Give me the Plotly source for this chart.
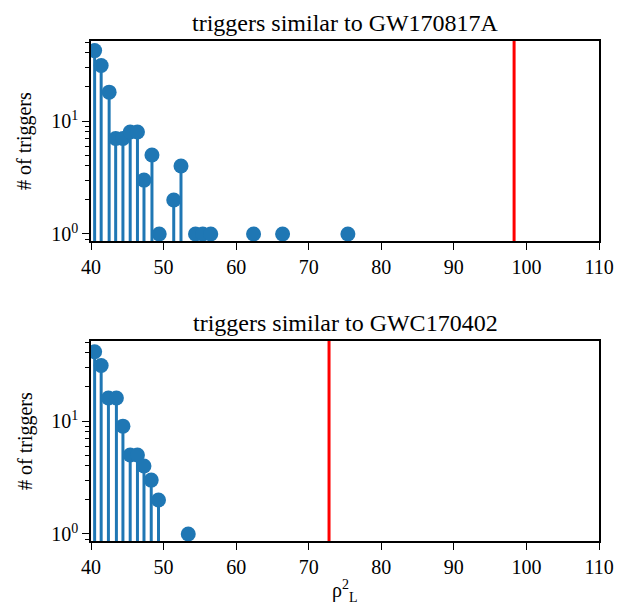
import plotly.graph_objects as go
from plotly.subplots import make_subplots

# top panel: triggers similar to GW170817A
rho_a = [40.5, 41.4, 42.5, 43.4, 44.4, 45.4, 46.4, 47.3, 48.4, 49.4,
         51.4, 52.4, 54.4, 55.4, 56.5, 62.4, 66.4, 75.4]
count_a = [42, 31, 18, 7, 7, 8, 8, 3, 5, 1,
           2, 4, 1, 1, 1, 1, 1, 1]
event_a = 98.3

# bottom panel: triggers similar to GWC170402
rho_b = [40.5, 41.4, 42.4, 43.5, 44.4, 45.4, 46.4, 47.3, 48.3, 49.3, 53.4]
count_b = [41, 31, 16, 16, 9, 5, 5, 4, 3, 2, 1]
event_b = 72.8

titles = ["triggers similar to GW170817A", "triggers similar to GWC170402"]

BLUE = "#1f77b4"
FONT = "Liberation Serif"
STEM_BASE = 0.5  # below the visible log range, like matplotlib's clipped baseline

fig = make_subplots(rows=2, cols=1, vertical_spacing=0.2)


def stems(xs, ys):
    sx, sy = [], []
    for x, y in zip(xs, ys):
        sx += [x, x, None]
        sy += [STEM_BASE, y, None]
    return sx, sy


for row, (xs, ys, ev) in enumerate([(rho_a, count_a, event_a),
                                    (rho_b, count_b, event_b)], start=1):
    sx, sy = stems(xs, ys)
    fig.add_trace(go.Scatter(x=sx, y=sy, mode="lines",
                             line=dict(color=BLUE, width=3),
                             showlegend=False, hoverinfo="skip"),
                  row=row, col=1)
    fig.add_trace(go.Scatter(x=xs, y=ys, mode="markers",
                             marker=dict(color=BLUE, size=15),
                             showlegend=False),
                  row=row, col=1)
    fig.add_vline(x=ev, line=dict(color="red", width=3), row=row, col=1)

minor_vals = [0.9, 2, 3, 4, 5, 6, 7, 8, 9, 20, 30, 40, 50]

fig.update_xaxes(range=[40, 110], tickvals=[40, 50, 60, 70, 80, 90, 100, 110],
                 ticks="outside", ticklen=7, tickwidth=1.2, tickcolor="black",
                 showline=True, linecolor="black", linewidth=1.5, mirror=True,
                 showgrid=False, zeroline=False, automargin=False,
                 tickfont=dict(family=FONT, size=20, color="black"))
fig.update_yaxes(type="log", range=[-0.062, 1.708],
                 tickvals=[1, 10], ticktext=["10<sup>0</sup>", "10<sup>1</sup>"],
                 ticks="outside", ticklen=7, tickwidth=1.2, tickcolor="black",
                 minor=dict(tickvals=minor_vals, ticks="outside", ticklen=4,
                            tickcolor="black", tickwidth=1, showgrid=False),
                 showline=True, linecolor="black", linewidth=1.5, mirror=True,
                 showgrid=False, zeroline=False, automargin=False,
                 tickfont=dict(family=FONT, size=20, color="black"))

fig.add_annotation(text="ρ<sup>2</sup><sub>L</sub>", x=0.5, y=0, xref="paper",
                   yref="paper", yanchor="middle", yshift=-50, showarrow=False,
                   font=dict(family=FONT, size=20, color="black"))
for title, top in zip(titles, [1.0, 0.4]):
    fig.add_annotation(text=title, x=0.5, y=top, xref="paper", yref="paper",
                       yanchor="bottom", yshift=3, showarrow=False,
                       font=dict(family=FONT, size=24, color="black"))
    fig.add_annotation(text="# of triggers", x=0, y=top - 0.2, xref="paper",
                       yref="paper", xanchor="center", yanchor="middle",
                       xshift=-66, textangle=-90, showarrow=False,
                       font=dict(family=FONT, size=20, color="black"))

# the page body adds an 8px offset, so the figure is 8px smaller than the window
fig.update_layout(width=620, height=598,
                  margin=dict(l=83, r=29, t=33, b=65),
                  plot_bgcolor="white", paper_bgcolor="white",
                  font=dict(family=FONT, color="black"))

fig.write_html("out.html")
